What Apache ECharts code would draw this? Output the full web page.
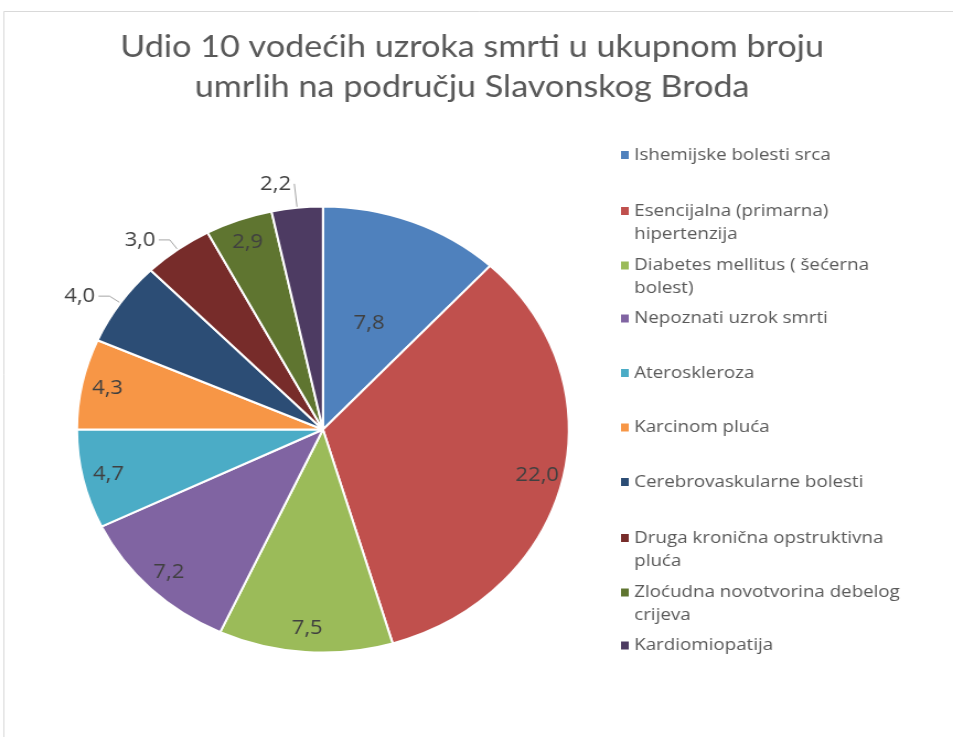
<!DOCTYPE html>
<html>
<head>
<meta charset="utf-8">
<title>Udio 10 vodećih uzroka smrti</title>
<script src="https://cdn.jsdelivr.net/npm/echarts@6/dist/echarts.min.js"></script>
<style>
  html, body { margin: 0; padding: 0; background: #fff; overflow: hidden; }
  /* the source picture is stretched sideways, so the chart is drawn narrower and widened */
  #chart { width: 864px; height: 737px; transform: scaleX(1.103); transform-origin: 0 0; }
</style>
</head>
<body>
<div id="chart"></div>
<script>
  const causes = [
    "Ishemijske bolesti srca",
    "Esencijalna (primarna) hipertenzija",
    "Diabetes mellitus ( šećerna bolest)",
    "Nepoznati uzrok smrti",
    "Ateroskleroza",
    "Karcinom pluća",
    "Cerebrovaskularne bolesti",
    "Druga kronična opstruktivna pluća",
    "Zloćudna novotvorina debelog crijeva",
    "Kardiomiopatija"
  ];
  const legendText = [
    "Ishemijske bolesti srca",
    "Esencijalna (primarna)\nhipertenzija",
    "Diabetes mellitus ( šećerna\nbolest)",
    "Nepoznati uzrok smrti",
    "Ateroskleroza",
    "Karcinom pluća",
    "Cerebrovaskularne bolesti",
    "Druga kronična opstruktivna\npluća",
    "Zloćudna novotvorina debelog\ncrijeva",
    "Kardiomiopatija"
  ];
  const shares = [7.8, 22.0, 7.5, 7.2, 4.7, 4.3, 4.0, 3.0, 2.9, 2.2];
  const colors = [
    "#4f81bd", "#c0504d", "#9bbb59", "#8064a2", "#4bacc6",
    "#f79646", "#2c4d75", "#772c2a", "#5f7530", "#4d3b62"
  ];
  // where each value label sits: near the rim, halfway in, or outside with a line
  const labelPlace = ["mid", "rim", "rim", "rim", "rim", "rim", "out", "out", "rim", "out"];

  const fmt = (p) => p.value.toFixed(1).replace(".", ",");
  const labelFont = { fontFamily: "Open Sans", fontSize: 20, color: "#404040" };

  const chart = echarts.init(document.getElementById("chart"), null, { renderer: "canvas" });

  // legend text is centred on its marker, so wrapped entries get an empty
  // first line to keep the marker next to the first visible line
  const legends = causes.map((name, i) => {
    const wrapped = legendText[i].includes("\n");
    const mid = 155 + 54.5 * i;
    return {
      data: [name],
      orient: "vertical",
      left: 563,
      top: wrapped ? mid - 33 : mid - 11.5,
      padding: 0,
      itemWidth: 7,
      itemHeight: 8,
      icon: "rect",
      selectedMode: false,
      itemStyle: { borderWidth: 0 },
      formatter: () => (wrapped ? "\n" : "") + legendText[i],
      textStyle: {
        fontFamily: "Open Sans",
        fontSize: 17,
        color: "#595959",
        lineHeight: 23
      }
    };
  });

  const mainData = causes.map((name, i) => ({
    name: name,
    value: shares[i],
    itemStyle: { color: colors[i] },
    label: labelPlace[i] === "mid"
      ? { show: true, position: "inside" }
      : labelPlace[i] === "out"
        ? { show: true, position: "outside" }
        : { show: false },
    labelLine: i === shares.length - 1
      ? { show: true, length: 24, length2: 0 }
      : { show: labelPlace[i] === "out" }
  }));

  const rimData = causes.map((name, i) => ({
    name: name,
    value: shares[i],
    label: { show: labelPlace[i] === "rim" }
  }));

  chart.setOption({
    animation: false,
    backgroundColor: "#fff",
    title: {
      text: "Udio 10 vodećih uzroka smrti u ukupnom broju\numrlih na području Slavonskog Broda",
      left: 428,
      top: 27,
      padding: 0,
      textAlign: "center",
      textStyle: {
        fontFamily: "Lato",
        fontSize: 31,
        fontWeight: "normal",
        color: "#595959",
        lineHeight: 40
      }
    },
    legend: legends,
    graphic: [{
      type: "rect",
      silent: true,
      shape: { x: 3.5, y: 11.5, width: 2000, height: 2000 },
      style: { fill: null, stroke: "#d9d9d9", lineWidth: 1 }
    }],
    series: [
      {
        type: "pie",
        center: [292.8, 429.5],
        radius: 223,
        startAngle: 90,
        clockwise: true,
        avoidLabelOverlap: false,
        itemStyle: { borderColor: "#ffffff", borderWidth: 2 },
        emphasis: { disabled: true },
        label: Object.assign({ formatter: fmt, distanceToLabelLine: 3 }, labelFont),
        labelLine: { length: 12, length2: 10, lineStyle: { color: "#a6a6a6", width: 1 } },
        data: mainData
      },
      {
        type: "pie",
        center: [292.8, 429.5],
        radius: [170, 223],
        startAngle: 90,
        clockwise: true,
        silent: true,
        avoidLabelOverlap: false,
        itemStyle: { color: "rgba(0,0,0,0)", borderWidth: 0 },
        emphasis: { disabled: true },
        label: Object.assign({ position: "inside", formatter: fmt }, labelFont),
        labelLine: { show: false },
        data: rimData
      }
    ]
  });

  window.addEventListener("resize", () => chart.resize());
</script>
</body>
</html>
